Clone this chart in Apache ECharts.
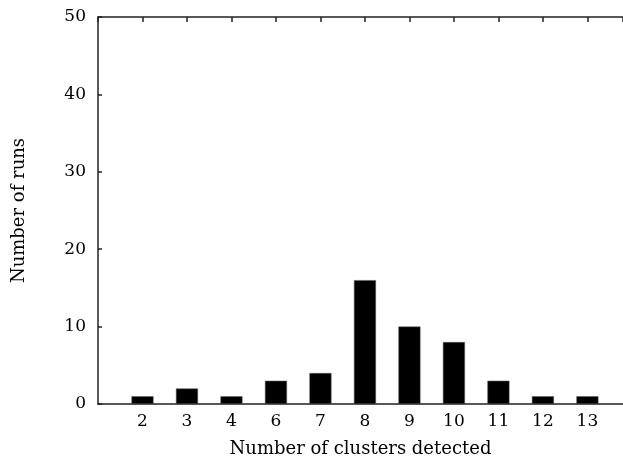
<!DOCTYPE html>
<html>
<head>
<meta charset="utf-8">
<script src="https://cdn.jsdelivr.net/npm/echarts@6/dist/echarts.min.js"></script>
<style>
  html, body { margin: 0; padding: 0; background: #fff; }
  #chart { width: 623px; height: 463px; }
</style>
</head>
<body>
<div id="chart"></div>
<script>
(function () {
  // clusters detected (5 never occurs, so it has no slot)
  var categories = ['2', '3', '4', '6', '7', '8', '9', '10', '11', '12', '13'];
  var runs = [1, 2, 1, 3, 4, 16, 10, 8, 3, 1, 1];
  var yTicks = [0, 10, 20, 30, 40, 50];

  var FONT = '"DejaVu Serif", "Liberation Serif", serif';
  var AXIS_COLOR = '#222';

  var barData = runs.map(function (v, i) {
    return [i + 1, v];
  });

  function slotLabel(value) {
    if (value % 1 !== 0) return '';
    return categories[value - 1] || '';
  }

  var chart = echarts.init(document.getElementById('chart'));
  chart.setOption({
    animation: false,
    backgroundColor: '#fff',
    grid: { left: 98, right: 0, top: 17, bottom: 58, containLabel: false },
    xAxis: [
      {
        type: 'value',
        position: 'bottom',
        min: 0,
        max: 11.8,
        interval: 1,
        name: 'Number of clusters detected',
        nameLocation: 'middle',
        nameGap: 36,
        nameTextStyle: { fontFamily: FONT, fontSize: 18, color: '#000' },
        axisLine: { show: true, lineStyle: { color: AXIS_COLOR, width: 1.5 } },
        axisTick: { show: false },
        splitLine: { show: false },
        axisLabel: {
          fontFamily: FONT,
          fontSize: 17,
          color: '#000',
          margin: 9,
          showMinLabel: false,
          showMaxLabel: false,
          formatter: slotLabel
        }
      },
      {
        type: 'value',
        position: 'top',
        min: 0,
        max: 11.8,
        interval: 1,
        axisLine: { show: true, onZero: false, lineStyle: { color: AXIS_COLOR, width: 1.5 } },
        axisTick: { show: true, inside: true, length: 5, lineStyle: { color: AXIS_COLOR, width: 1.5 } },
        axisLabel: { show: false },
        splitLine: { show: false }
      }
    ],
    yAxis: {
      type: 'value',
      min: yTicks[0],
      max: yTicks[yTicks.length - 1],
      interval: 10,
      name: 'Number of runs',
      nameLocation: 'middle',
      nameGap: 70,
      nameTextStyle: { fontFamily: FONT, fontSize: 18, color: '#000' },
      axisLine: { show: true, lineStyle: { color: AXIS_COLOR, width: 1.5 } },
      axisTick: { show: true, inside: true, length: 4, lineStyle: { color: AXIS_COLOR, width: 1.5 } },
      splitLine: { show: false },
      axisLabel: { fontFamily: FONT, fontSize: 17, color: '#000', margin: 12 }
    },
    series: [
      {
        type: 'bar',
        xAxisIndex: 0,
        data: barData,
        barWidth: 22,
        itemStyle: { color: '#000', borderColor: '#555', borderWidth: 0.5 }
      }
    ]
  });
})();
</script>
</body>
</html>
